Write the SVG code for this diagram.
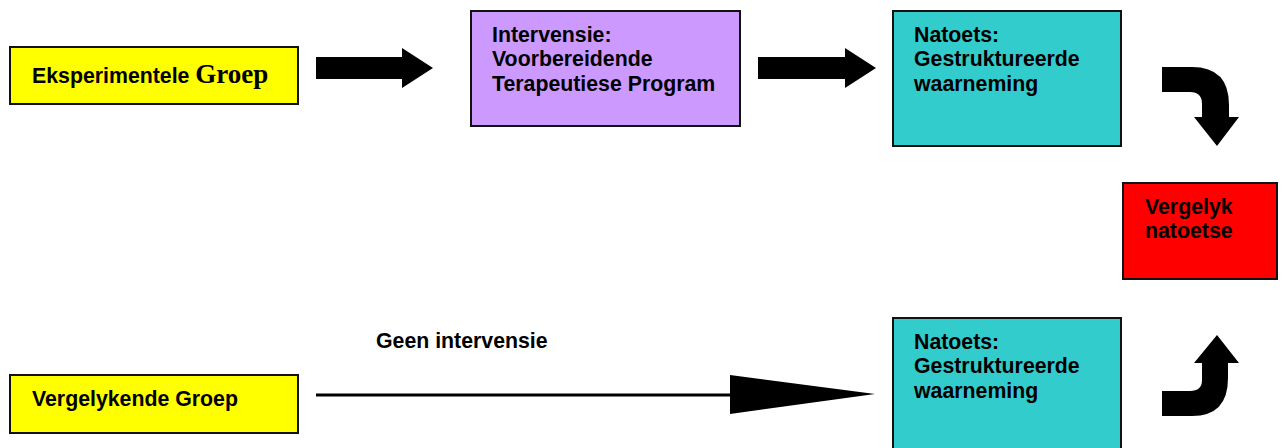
<svg xmlns="http://www.w3.org/2000/svg" width="1282" height="448" viewBox="0 0 1282 448">
<style>
.box{stroke:#111;stroke-width:2}
.t{font-family:"Liberation Sans",Arial,sans-serif;font-weight:bold;font-size:21.3px;fill:#000}
.s{font-family:"Liberation Serif","Times New Roman",serif;font-weight:bold;font-size:27px}
.arr{fill:#000}
</style>
<rect width="1282" height="448" fill="#fff"/>
<g id="eksperimentele">
<rect class="box" x="10" y="47" width="288" height="57" fill="#ffff00"/>
<text class="t" x="32" y="83">Eksperimentele <tspan class="s">Groep</tspan></text>
</g>
<g id="intervensie">
<rect class="box" x="471" y="11" width="269" height="115" fill="#cc99ff"/>
<text class="t" x="492" y="42">Intervensie:</text>
<text class="t" x="492" y="66">Voorbereidende</text>
<text class="t" x="492" y="91">Terapeutiese Program</text>
</g>
<g id="natoets1">
<rect class="box" x="893" y="11" width="228" height="135" fill="#33cccc"/>
<text class="t" x="914" y="42">Natoets:</text>
<text class="t" x="914" y="66">Gestruktureerde</text>
<text class="t" x="914" y="91">waarneming</text>
</g>
<g id="vergelyk">
<rect class="box" x="1123" y="183" width="154" height="96" fill="#ff0000"/>
<text class="t" x="1145" y="214">Vergelyk</text>
<text class="t" x="1145" y="238">natoetse</text>
</g>
<g id="natoets2">
<rect class="box" x="893" y="318" width="228" height="140" fill="#33cccc"/>
<text class="t" x="914" y="349">Natoets:</text>
<text class="t" x="914" y="373">Gestruktureerde</text>
<text class="t" x="914" y="398">waarneming</text>
</g>
<g id="vergelykende">
<rect class="box" x="10" y="375" width="288" height="58" fill="#ffff00"/>
<text class="t" x="32" y="406">Vergelykende Groep</text>
</g>
<g id="connectors">
<path class="arr" d="M316,57 L402,57 L402,48 L433,68 L402,88 L402,79 L316,79 Z"/>
<path class="arr" d="M758,57 L845,57 L845,48 L876,68 L845,88 L845,79 L758,79 Z"/>
<path class="arr" d="M1162,67 L1192,67 Q1229,67 1229,105 L1229,117 L1239,117 L1217,146 L1194,117 L1202,117 L1202,104 Q1202,92 1190,92 L1162,92 Z"/>
<path class="arr" d="M1162,416 L1192,416 Q1228,416 1228,378 L1228,363 L1239,363 L1217,335 L1194,363 L1202,363 L1202,380 Q1202,391 1190,391 L1162,391 Z"/>
<line x1="316" y1="395" x2="735" y2="395" stroke="#000" stroke-width="3"/>
<path class="arr" d="M730,375 L875,394 L730,414 Z"/>
<text class="t" x="376" y="348">Geen intervensie</text>
</g>
</svg>
